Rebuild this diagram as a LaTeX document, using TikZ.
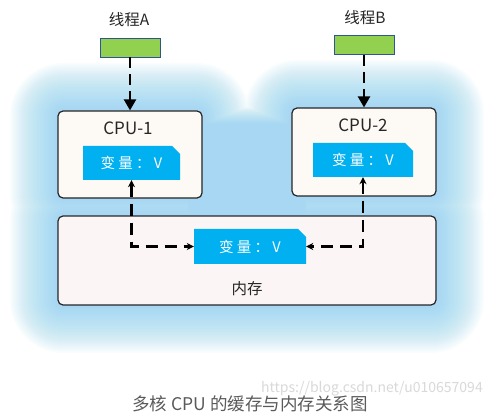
\documentclass[tikz,border=0pt]{standalone}
\usepackage{fontspec}
\setmainfont{Noto Sans CJK SC}
\setsansfont{Noto Sans CJK SC}
\usetikzlibrary{arrows.meta,shapes.misc}
\definecolor{glowc}{RGB}{150,215,243}
\definecolor{greenc}{RGB}{146,208,80}
\definecolor{blueedge}{RGB}{47,85,151}
\definecolor{varc}{RGB}{0,176,240}
\definecolor{cpufill}{RGB}{253,249,244}
\definecolor{memfill}{RGB}{252,245,245}
\definecolor{capc}{RGB}{90,90,90}
\tikzset{
  threadbox/.style={draw=blueedge, line width=0.8pt, fill=greenc, minimum width=60pt, minimum height=19pt, inner sep=0pt},
  cpubox/.style={draw=black!85, line width=1.2pt, fill=cpufill, rounded corners=5pt, minimum width=144pt, minimum height=87pt, inner sep=0pt},
  membox/.style={draw=black!85, line width=1.2pt, fill=memfill, rounded corners=5pt, minimum width=378pt, minimum height=89pt, inner sep=0pt},
  varbox/.style={chamfered rectangle, chamfered rectangle corners={north east}, chamfered rectangle xsep=4pt, chamfered rectangle ysep=4pt, fill=varc, text=white, font=\fontsize{14.5}{16}\selectfont, inner sep=0pt, minimum height=34pt},
  lbl/.style={font=\fontsize{15.5}{17}\selectfont, text=black!85},
  toparrow/.style={line width=2.2pt, dash pattern=on 11pt off 6pt, -{Triangle[length=11pt,width=12pt]}},
  linkarrow/.style={line width=2.2pt, dash pattern=on 12pt off 7pt, {Stealth[length=7pt,width=7pt]}-{Stealth[length=7pt,width=7pt]}},
}
\begin{document}
\begin{tikzpicture}[x=1pt,y=-1pt]
\useasboundingbox (0,0) rectangle (499,417);
\fill[white] (0,0) rectangle (499,417);
% glow
\foreach \i in {1,...,32}{
  \pgfmathsetmacro\d{1.5*\i}
  \pgfmathsetmacro\r{5+\d}
  \fill[glowc, opacity=0.043, rounded corners=\r pt]
    (58-\d,111-\d) rectangle (202+\d,198+\d)
    (292-\d,108-\d) rectangle (436+\d,196+\d)
    (190-0.4*\d,125-0.4*\d) rectangle (304+0.4*\d,230)
    (58-\d,216-\d) rectangle (436+\d,305+\d);
}
% threads
\node[lbl] (lA) at (129,20) {线程A};
\node[lbl] (lB) at (365,18) {线程B};
\node[threadbox] (tA) at (130,47.5) {};
\node[threadbox] (tB) at (364,45) {};
% boxes
\node[cpubox] (cpu1) at (130,154.5) {};
\node[cpubox, minimum height=88pt] (cpu2) at (364,152) {};
\node[membox] (mem) at (247,260.5) {};
\node[lbl, font=\fontsize{17}{19}\selectfont] (c1) at (128,128) {CPU-1};
\node[lbl, font=\fontsize{17}{19}\selectfont] (c2) at (363,125) {CPU-2};
\node[varbox, minimum width=97pt] (var1) at (131.5,163) {变 量 ： V};
\node[varbox, minimum width=100pt] (var2) at (363,160) {变 量 ： V};
\node[varbox, minimum width=112pt, minimum height=35pt] (varm) at (250,246.5) {变 量 ： V};
\node[lbl] (ml) at (247,289) {内存};
% arrows
\draw[toparrow] (tA.south) -- (cpu1.north);
\draw[toparrow] (tB.south) -- (cpu2.north);
\draw[linkarrow] (var1.south) |- (varm.west);
\draw[linkarrow] (var2.south) |- (varm.east);
% caption
\node[text=black!15, font=\fontsize{14}{16}\selectfont] (wm) at (372,389) {https://blog.csdn.net/u010657094};
\node[text=capc, font=\fontsize{17.5}{20}\selectfont] (cap) at (250,404) {多核 CPU 的缓存与内存关系图};
\end{tikzpicture}
\end{document}
